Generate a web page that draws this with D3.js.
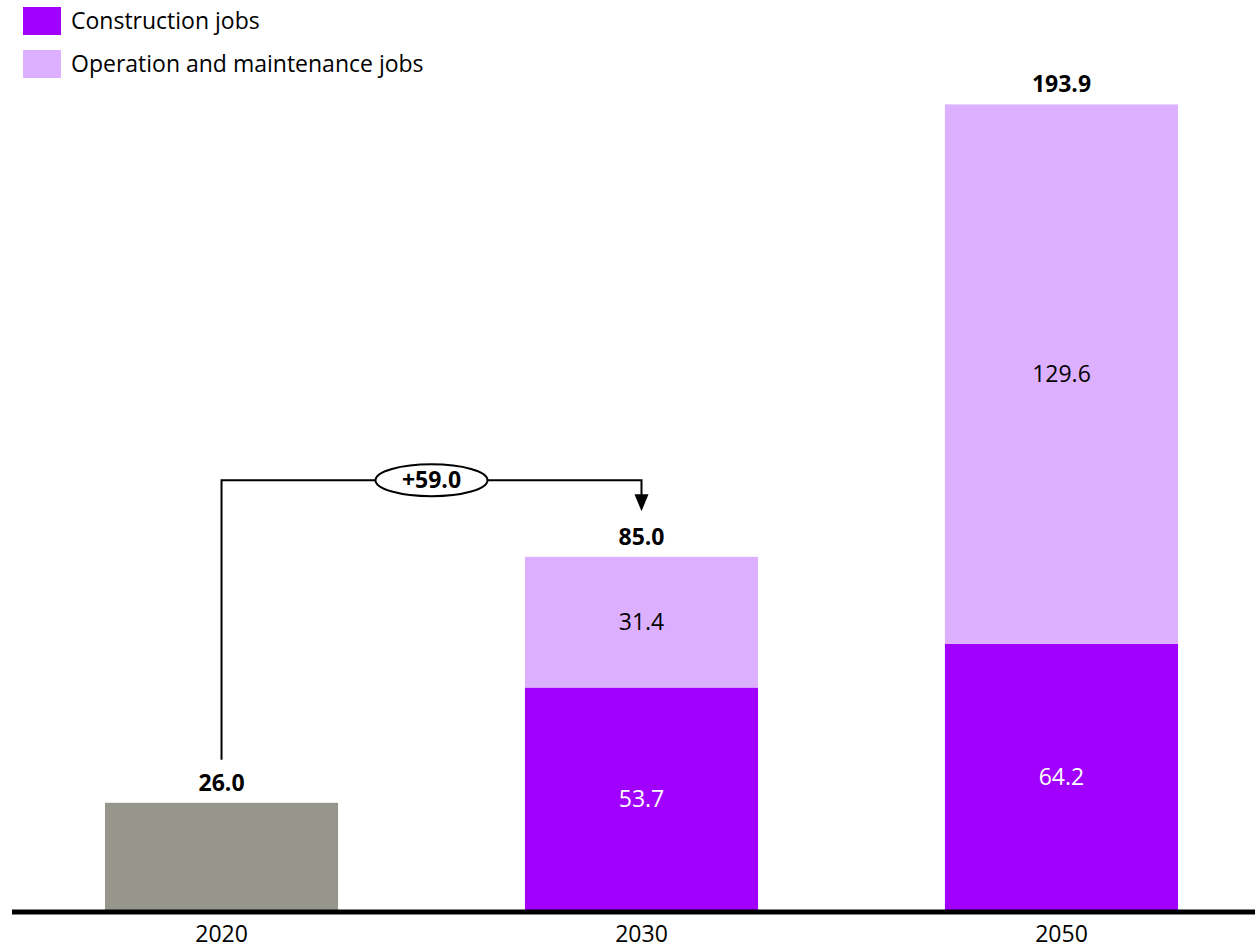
<!DOCTYPE html>
<html>
<head>
<meta charset="utf-8">
<script src="https://cdn.jsdelivr.net/npm/d3@7"></script>
<style>
  body { margin: 0; background: #fff; }
  text { font-family: "Open Sans", sans-serif; }
</style>
</head>
<body>
<div id="chart"></div>
<script>
const years = ["2020", "2030", "2050"];
const baseline = [26.0, 0, 0];
const construction = [0, 53.7, 64.2];
const operation = [0, 31.4, 129.6];
const totals = [26.0, 85.0, 193.9];
const seriesNames = ["Construction jobs", "Operation and maintenance jobs"];
const deltaLabel = "+59.0";

const width = 1255, height = 948;
const colors = { base: "#96968C", cons: "#A100FF", om: "#DCAFFF" };
const font = "'Open Sans', sans-serif";
const fs = "23px";

const svg = d3.select("#chart").append("svg")
  .attr("width", width)
  .attr("height", height);

// --- Scales ---
const x = d3.scaleBand()
  .domain(years)
  .range([12, 1271])
  .paddingInner(0.445)
  .paddingOuter(0.2214);

const y = d3.scaleLinear()
  .domain([0, 193.9])
  .range([911, 104]);

const bw = x.bandwidth();

// --- Bars ---
const rows = years.map((yr, i) => ({
  year: yr, base: baseline[i], cons: construction[i], om: operation[i], total: totals[i]
}));

svg.selectAll(".bar-base")
  .data(rows.filter(d => d.base > 0))
  .enter().append("rect")
  .attr("x", d => x(d.year))
  .attr("y", d => y(d.base))
  .attr("width", bw)
  .attr("height", d => y(0) - y(d.base))
  .attr("fill", colors.base);

svg.selectAll(".bar-cons")
  .data(rows.filter(d => d.cons > 0))
  .enter().append("rect")
  .attr("x", d => x(d.year))
  .attr("y", d => y(d.cons))
  .attr("width", bw)
  .attr("height", d => y(0) - y(d.cons))
  .attr("fill", colors.cons);

svg.selectAll(".bar-om")
  .data(rows.filter(d => d.om > 0))
  .enter().append("rect")
  .attr("x", d => x(d.year))
  .attr("y", d => y(d.cons + d.om))
  .attr("width", bw)
  .attr("height", d => y(d.cons) - y(d.cons + d.om))
  .attr("fill", colors.om);

// --- Segment labels ---
svg.selectAll(".lab-cons")
  .data(rows.filter(d => d.cons > 0))
  .enter().append("text")
  .attr("x", d => x(d.year) + bw / 2)
  .attr("y", d => (y(0) + y(d.cons)) / 2 + 8)
  .attr("text-anchor", "middle")
  .attr("fill", "#fff")
  .style("font-size", fs)
  .text(d => d.cons.toFixed(1));

svg.selectAll(".lab-om")
  .data(rows.filter(d => d.om > 0))
  .enter().append("text")
  .attr("x", d => x(d.year) + bw / 2)
  .attr("y", d => (y(d.cons) + y(d.cons + d.om)) / 2 + 8)
  .attr("text-anchor", "middle")
  .attr("fill", "#000")
  .style("font-size", fs)
  .text(d => d.om.toFixed(1));

// --- Totals ---
svg.selectAll(".lab-total")
  .data(rows)
  .enter().append("text")
  .attr("x", d => x(d.year) + bw / 2)
  .attr("y", d => y(d.total) - 12)
  .attr("text-anchor", "middle")
  .attr("fill", "#000")
  .style("font-size", fs)
  .style("font-weight", "700")
  .text(d => d.total.toFixed(1));

// --- Axis ---
const xAxis = svg.append("g")
  .attr("transform", `translate(0,${y(0)})`)
  .call(d3.axisBottom(x).tickSize(0).tickPadding(15));
xAxis.select(".domain").remove();
xAxis.selectAll("text")
  .attr("fill", "#000")
  .style("font-family", font)
  .style("font-size", fs);

svg.append("line")
  .attr("x1", 12).attr("x2", width)
  .attr("y1", y(0) + 1).attr("y2", y(0) + 1)
  .attr("stroke", "#000")
  .attr("stroke-width", 5);

// --- Change connector ---
const xa = x("2020") + bw / 2;
const xb = x("2030") + bw / 2;
const yTop = y(85.0) - 77;
const yStart = y(26.0) - 43;
const yTip = y(85.0) - 46;

svg.append("path")
  .attr("d", `M${xa},${yStart} V${yTop} H${xb} V${yTip - 16}`)
  .attr("fill", "none")
  .attr("stroke", "#000")
  .attr("stroke-width", 2);

svg.append("path")
  .attr("d", `M${xb - 7},${yTip - 17} L${xb + 7},${yTip - 17} L${xb},${yTip} Z`)
  .attr("fill", "#000");

const ex = (xa + xb) / 2;
svg.append("ellipse")
  .attr("cx", ex).attr("cy", yTop)
  .attr("rx", 56).attr("ry", 16)
  .attr("fill", "#fff")
  .attr("stroke", "#000")
  .attr("stroke-width", 2);

svg.append("text")
  .attr("x", ex).attr("y", yTop + 8)
  .attr("text-anchor", "middle")
  .style("font-size", fs)
  .style("font-weight", "700")
  .text(deltaLabel);

// --- Legend ---
const legend = svg.append("g");
[colors.cons, colors.om].forEach((c, i) => {
  legend.append("rect")
    .attr("x", 23).attr("y", 7 + i * 43)
    .attr("width", 38).attr("height", 28)
    .attr("fill", c);
  legend.append("text")
    .attr("x", 71).attr("y", 29 + i * 43)
    .style("font-size", fs)
    .attr("fill", "#000")
    .text(seriesNames[i]);
});
</script>
</body>
</html>
